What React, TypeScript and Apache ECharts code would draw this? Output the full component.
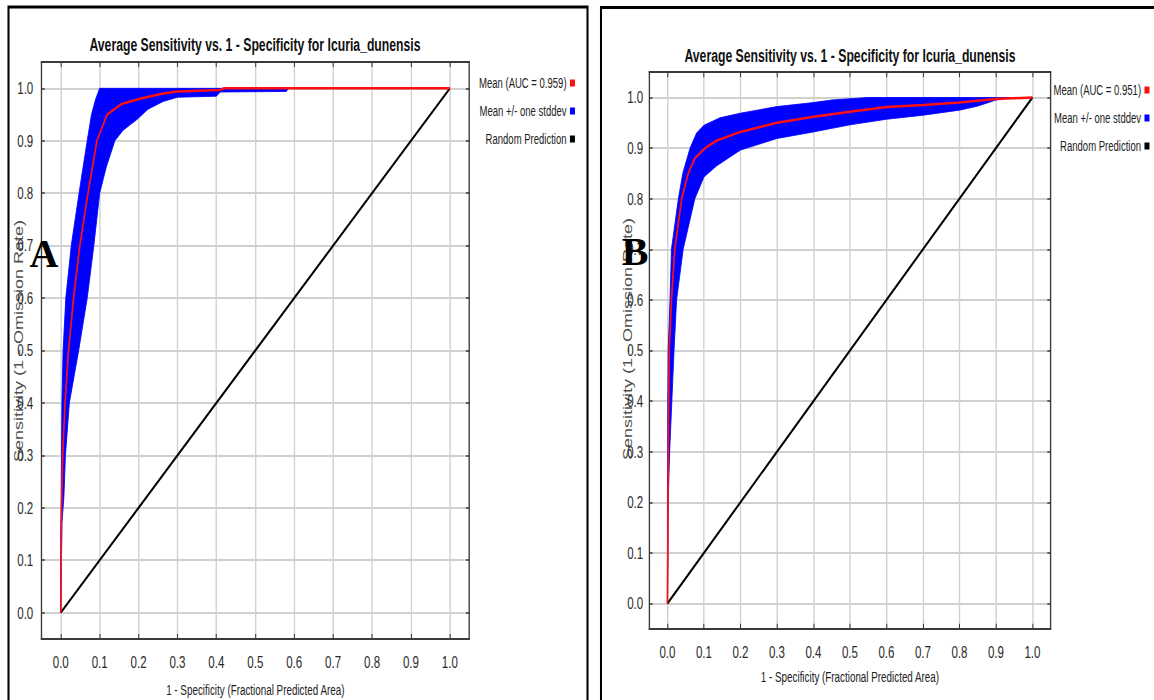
import React, { useEffect, useRef } from "react";
import * as echarts from "echarts";

// ---------- data ----------
const xTicks = [0, 0.1, 0.2, 0.3, 0.4, 0.5, 0.6, 0.7, 0.8, 0.9, 1.0];
const yTicks = [0, 0.1, 0.2, 0.3, 0.4, 0.5, 0.6, 0.7, 0.8, 0.9, 1.0];

const titleText = "Average Sensitivity vs. 1 - Specificity for Icuria_dunensis";
const xName = "1 - Specificity (Fractional Predicted Area)";
const yName = "Sensitivity (1 - Omission Rate)";

const meanNameA = "Mean (AUC = 0.959)";
const meanNameB = "Mean (AUC = 0.951)";
const bandName = "Mean +/- one stddev";
const randomName = "Random Prediction";

const randomLine = [[0, 0], [1, 1]];

// Panel A
const meanA = [
  [0, 0], [0.001, 0.1], [0.002, 0.2], [0.005, 0.3], [0.011, 0.4], [0.02, 0.5],
  [0.033, 0.6], [0.049, 0.7], [0.07, 0.8], [0.093, 0.9], [0.119, 0.95],
  [0.156, 0.97], [0.203, 0.98], [0.263, 0.99], [0.3, 0.994], [0.41, 0.997],
  [0.42, 1.0], [1, 1],
];
const upperA = [
  [0, 0], [0, 0.15], [0.001, 0.2], [0.002, 0.3], [0.003, 0.4], [0.006, 0.5],
  [0.013, 0.6], [0.027, 0.7], [0.047, 0.8], [0.068, 0.9], [0.079, 0.95],
  [0.09, 0.98], [0.1, 1.0], [1, 1],
];
const lowerA = [
  [0, 0], [0.003, 0.17], [0.008, 0.22], [0.012, 0.3], [0.022, 0.4], [0.046, 0.5],
  [0.068, 0.6], [0.085, 0.7], [0.1, 0.8], [0.117, 0.85], [0.139, 0.9],
  [0.16, 0.92], [0.195, 0.94], [0.224, 0.96], [0.263, 0.975], [0.3, 0.983],
  [0.4, 0.985], [0.41, 0.993], [0.58, 0.994], [0.585, 1.0], [1, 1],
];

// Panel B
const meanB = [
  [0, 0], [0.001, 0.1], [0.002, 0.3], [0.005, 0.5], [0.011, 0.6], [0.02, 0.7],
  [0.039, 0.8], [0.057, 0.85], [0.075, 0.88], [0.103, 0.9], [0.135, 0.915],
  [0.2, 0.932], [0.3, 0.95], [0.4, 0.962], [0.5, 0.972], [0.6, 0.981],
  [0.7, 0.985], [0.8, 0.99], [0.9, 0.997], [1, 1],
];
const upperB = [
  [0, 0], [0, 0.2], [0.001, 0.4], [0.002, 0.5], [0.007, 0.6], [0.011, 0.7],
  [0.03, 0.8], [0.042, 0.85], [0.062, 0.9], [0.08, 0.93], [0.1, 0.945],
  [0.144, 0.96], [0.2, 0.969], [0.3, 0.982], [0.4, 0.99], [0.45, 0.995],
  [0.55, 1.0], [1, 1],
];
const lowerB = [
  [0, 0], [0.002, 0.2], [0.006, 0.3], [0.012, 0.4], [0.018, 0.5], [0.025, 0.6],
  [0.043, 0.7], [0.075, 0.8], [0.1, 0.843], [0.135, 0.865], [0.2, 0.896],
  [0.3, 0.919], [0.4, 0.932], [0.5, 0.946], [0.6, 0.957], [0.7, 0.965],
  [0.8, 0.975], [0.85, 0.983], [0.9, 0.995], [0.93, 1.0], [1, 1],
];

// ---------- layout helpers ----------
const S = 0.68; // horizontal compression of the reference picture
const W = 1154 / S;
const X = (px: number) => px / S;
const SANS = "'Liberation Sans', Arial, Helvetica, sans-serif";
const SERIF = "'Liberation Serif', 'Times New Roman', serif";
const RED = "#ff1010";
const BLUE = "#0000ff";
const AXIS = "#3a3a3a";
const GRIDC = "#d0d0d0";

function xAxes(gridIndex: number, nameGap: number) {
  return [
    {
      type: "value", gridIndex, position: "bottom", min: -0.05, max: 1.05,
      name: xName, nameLocation: "middle", nameGap,
      nameTextStyle: { fontFamily: SANS, fontSize: 14.5, color: "#222" },
      axisLine: { show: true, onZero: false, lineStyle: { color: AXIS, width: 2 } },
      axisTick: { show: true, inside: true, length: 5, customValues: xTicks, lineStyle: { color: AXIS, width: 1.5 } },
      axisLabel: {
        show: true, customValues: xTicks, margin: 15,
        formatter: (v: number) => v.toFixed(1),
        fontFamily: SANS, fontSize: 17, color: "#2a2a2a",
      },
      splitLine: { show: true, lineStyle: { color: GRIDC, width: 2 } },
    },
    {
      type: "value", gridIndex, position: "top", min: -0.05, max: 1.05,
      axisLine: { show: true, onZero: false, lineStyle: { color: AXIS, width: 2 } },
      axisTick: { show: true, inside: true, length: 5, customValues: xTicks, lineStyle: { color: AXIS, width: 1.5 } },
      axisLabel: { show: false },
      splitLine: { show: false },
    },
  ];
}

function yAxes(gridIndex: number, labelMargin: number) {
  return [
    {
      type: "value", gridIndex, position: "left", min: -0.05, max: 1.05,
      axisLine: { show: true, onZero: false, lineStyle: { color: AXIS, width: 2 } },
      axisTick: { show: true, inside: true, length: 5, customValues: yTicks, lineStyle: { color: AXIS, width: 1.5 } },
      axisLabel: {
        show: true, customValues: yTicks, margin: labelMargin,
        formatter: (v: number) => v.toFixed(1),
        fontFamily: SANS, fontSize: 17, color: "#2a2a2a",
      },
      splitLine: { show: true, lineStyle: { color: GRIDC, width: 2 } },
    },
    {
      type: "value", gridIndex, position: "right", min: -0.05, max: 1.05,
      axisLine: { show: true, onZero: false, lineStyle: { color: AXIS, width: 2 } },
      axisTick: { show: true, inside: true, length: 5, customValues: yTicks, lineStyle: { color: AXIS, width: 1.5 } },
      axisLabel: { show: false },
      splitLine: { show: false },
    },
  ];
}

function bandSeries(upper: number[][], lower: number[][], axisIndex: number) {
  const pts = upper.concat(lower.slice().reverse());
  return {
    type: "custom",
    name: bandName,
    xAxisIndex: axisIndex,
    yAxisIndex: axisIndex,
    data: pts,
    encode: { x: 0, y: 1 },
    itemStyle: { color: BLUE },
    silent: true,
    z: 1,
    renderItem: (params: any, api: any) => {
      if (params.dataIndex !== 0) return null;
      const points = pts.map((p) => api.coord(p));
      return {
        type: "polygon",
        shape: { points },
        style: { fill: BLUE, stroke: BLUE, lineWidth: 1 },
      };
    },
  };
}

function lineSeries(name: string, data: number[][], color: string, width: number, axisIndex: number, z: number) {
  return {
    type: "line",
    name,
    xAxisIndex: axisIndex,
    yAxisIndex: axisIndex,
    data,
    symbol: "none",
    showSymbol: false,
    silent: true,
    z,
    lineStyle: { color, width },
    itemStyle: { color },
  };
}

function legend(names: string[], rightPx: number, top: number) {
  return {
    orient: "vertical",
    right: X(rightPx) - 5,
    top,
    align: "right",
    itemGap: 14,
    icon: "rect",
    itemWidth: X(5),
    itemHeight: 7,
    selectedMode: false,
    data: names,
    textStyle: { fontFamily: SANS, fontSize: 14, color: "#222" },
  };
}

function buildOption() {
  return {
    animation: false,
    backgroundColor: "#ffffff",
    title: [
      {
        text: titleText, left: X(255) - 5, top: 31, textAlign: "center",
        textStyle: { fontFamily: SANS, fontWeight: "bold", fontSize: 18, color: "#111" },
      },
      {
        text: titleText, left: X(850) - 5, top: 42, textAlign: "center",
        textStyle: { fontFamily: SANS, fontWeight: "bold", fontSize: 18, color: "#111" },
      },
    ],
    legend: [
      legend([meanNameA, bandName, randomName], 1154 - 575, 71),
      legend([meanNameB, bandName, randomName], 1154 - 1149.5, 78),
    ],
    grid: [
      { left: X(41.3), top: 62.1, width: X(428), height: 576.8, containLabel: false, outerBoundsMode: "none" },
      { left: X(649.2), top: 72.2, width: X(401.5), height: 556.6, containLabel: false, outerBoundsMode: "none" },
    ],
    xAxis: [...xAxes(0, 44), ...xAxes(1, 41.5)],
    yAxis: [...yAxes(0, X(8)), ...yAxes(1, X(6))],
    series: [
      bandSeries(upperA, lowerA, 0),
      lineSeries(randomName, randomLine, "#000000", 2.5, 0, 3),
      lineSeries(meanNameA, meanA, RED, 2.5, 0, 4),
      bandSeries(upperB, lowerB, 2),
      lineSeries(randomName, randomLine, "#000000", 2.5, 2, 3),
      lineSeries(meanNameB, meanB, RED, 2.5, 2, 4),
    ],
    graphic: [
      {
        type: "rect", z: 100,
        shape: { x: X(8.5), y: 7, width: X(579), height: 760 },
        style: { fill: "none", stroke: "#000", lineWidth: 3 },
      },
      {
        type: "rect", z: 100,
        shape: { x: X(601), y: 7.5, width: X(600), height: 760 },
        style: { fill: "none", stroke: "#000", lineWidth: 3 },
      },
      {
        type: "text", x: X(18.7), y: 341, rotation: Math.PI / 2,
        style: { text: yName, fontFamily: SANS, fontSize: 18, fill: "#505050", textAlign: "center", textVerticalAlign: "middle" },
      },
      {
        type: "text", x: X(628), y: 339, rotation: Math.PI / 2,
        style: { text: yName, fontFamily: SANS, fontSize: 18, fill: "#505050", textAlign: "center", textVerticalAlign: "middle" },
      },
      {
        type: "text", x: X(44), y: 254, scaleX: 1 / S, z: 50,
        style: { text: "A", fontFamily: SERIF, fontWeight: "bold", fontSize: 40, fill: "#000", textAlign: "center", textVerticalAlign: "middle" },
      },
      {
        type: "text", x: X(635), y: 252, scaleX: 1 / S, z: 50,
        style: { text: "B", fontFamily: SERIF, fontWeight: "bold", fontSize: 40, fill: "#000", textAlign: "center", textVerticalAlign: "middle" },
      },
    ],
  };
}

export default function App() {
  const ref = useRef<HTMLDivElement>(null);
  useEffect(() => {
    if (!ref.current) return;
    const chart = echarts.init(ref.current, null, { renderer: "svg" });
    chart.setOption(buildOption() as any);
    return () => chart.dispose();
  }, []);
  return (
    <div style={{ position: "fixed", left: 0, top: 0, width: 1154, height: 700, overflow: "hidden", background: "#fff" }}>
      <div
        ref={ref}
        style={{ width: W, height: 700, transform: `scaleX(${S})`, transformOrigin: "0 0" }}
      />
    </div>
  );
}
